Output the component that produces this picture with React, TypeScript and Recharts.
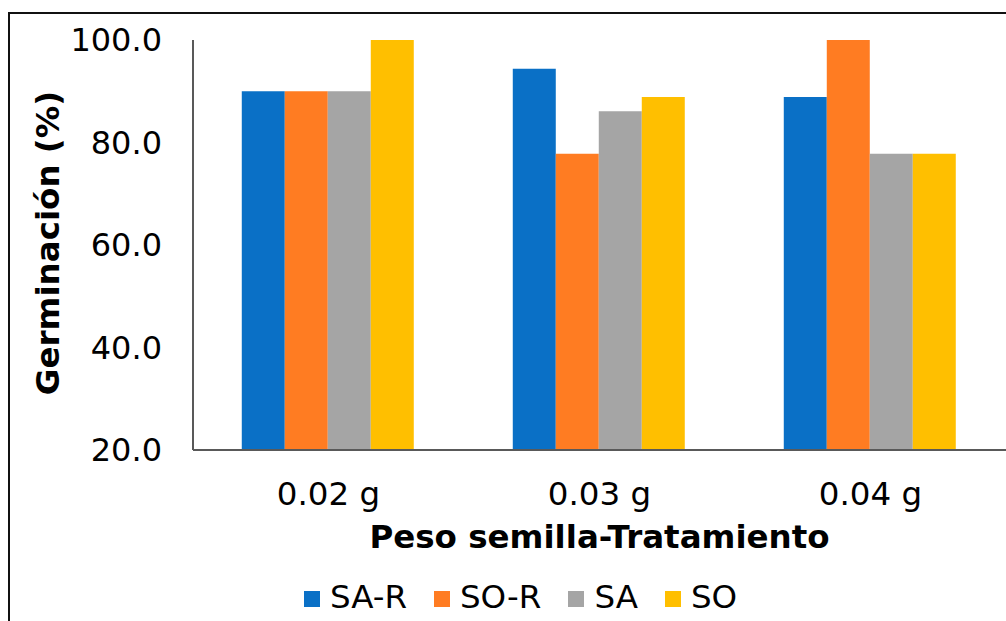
import { Bar, BarChart, XAxis, YAxis } from "recharts";

const FONT = '"DejaVu Sans", Verdana, sans-serif';

const categories = ["0.02 g", "0.03 g", "0.04 g"];
const saR = [90.0, 94.4, 88.9];
const soR = [90.0, 77.8, 100.0];
const sa = [90.0, 86.1, 77.8];
const so = [100.0, 88.9, 77.8];
const yTicks = [20, 40, 60, 80, 100];

const series = [
  { key: "saR", name: "SA-R", color: "#0a70c6" },
  { key: "soR", name: "SO-R", color: "#ff7c22" },
  { key: "sa", name: "SA", color: "#a5a5a5" },
  { key: "so", name: "SO", color: "#ffbf00" },
];

const data = categories.map((cat, i) => ({
  cat,
  saR: saR[i],
  soR: soR[i],
  sa: sa[i],
  so: so[i],
}));

function YTitle() {
  return (
    <text
      x={59}
      y={243}
      transform="rotate(-90 59 243)"
      textAnchor="middle"
      fontFamily={FONT}
      fontSize={32.5}
      fontWeight="bold"
      fill="#000"
    >
      Germinación (%)
    </text>
  );
}

function LegendRow() {
  return (
    <div
      style={{
        position: "absolute",
        top: 578,
        left: 0,
        width: 1006,
        display: "flex",
        justifyContent: "center",
        gap: 27,
        paddingLeft: 35,
        boxSizing: "border-box",
        fontFamily: FONT,
        fontSize: 32.5,
        lineHeight: "38px",
        color: "#000",
      }}
    >
      {series.map((s) => (
        <div key={s.key} style={{ display: "flex", alignItems: "center" }}>
          <span
            style={{
              display: "inline-block",
              width: 16,
              height: 16,
              background: s.color,
              marginRight: 10,
              marginTop: 3,
            }}
          />
          {s.name}
        </div>
      ))}
    </div>
  );
}

export default function App() {
  return (
    <div
      style={{
        position: "absolute",
        left: 0,
        top: 0,
        width: 1006,
        height: 621,
        overflow: "hidden",
        background: "#fff",
      }}
    >
      <div
        style={{
          position: "absolute",
          left: 8,
          top: 12,
          width: 1020,
          height: 640,
          borderLeft: "2px solid #111",
          borderTop: "2px solid #111",
        }}
      />
      <BarChart
        width={1006}
        height={621}
        data={data}
        margin={{ top: 40, right: 0, bottom: 0, left: 0 }}
        barCategoryGap="18%"
        barGap={0}
        style={{ position: "absolute", left: 0, top: 0 }}
      >
        <XAxis
          dataKey="cat"
          height={171}
          axisLine={{ stroke: "#595959", strokeWidth: 2 }}
          tickLine={false}
          tickSize={0}
          tickMargin={32}
          tick={{ fill: "#000", fontSize: 32.5, fontFamily: FONT }}
          label={{
            value: "Peso semilla-Tratamiento",
            position: "insideTop",
            offset: 75,
            fill: "#000",
            fontSize: 32.5,
            fontWeight: "bold",
            fontFamily: FONT,
          }}
        />
        <YAxis
          width={193}
          domain={[20, 100]}
          ticks={yTicks}
          allowDataOverflow
          axisLine={{ stroke: "#595959", strokeWidth: 2 }}
          tickLine={false}
          tickSize={0}
          tickMargin={31}
          tickFormatter={(v) => Number(v).toFixed(1)}
          tick={{ fill: "#000", fontSize: 32, fontFamily: FONT }}
          label={{ content: () => <YTitle /> }}
        />
        {series.map((s) => (
          <Bar
            key={s.key}
            dataKey={s.key}
            name={s.name}
            fill={s.color}
            isAnimationActive={false}
          />
        ))}
      </BarChart>
      <LegendRow />
    </div>
  );
}
